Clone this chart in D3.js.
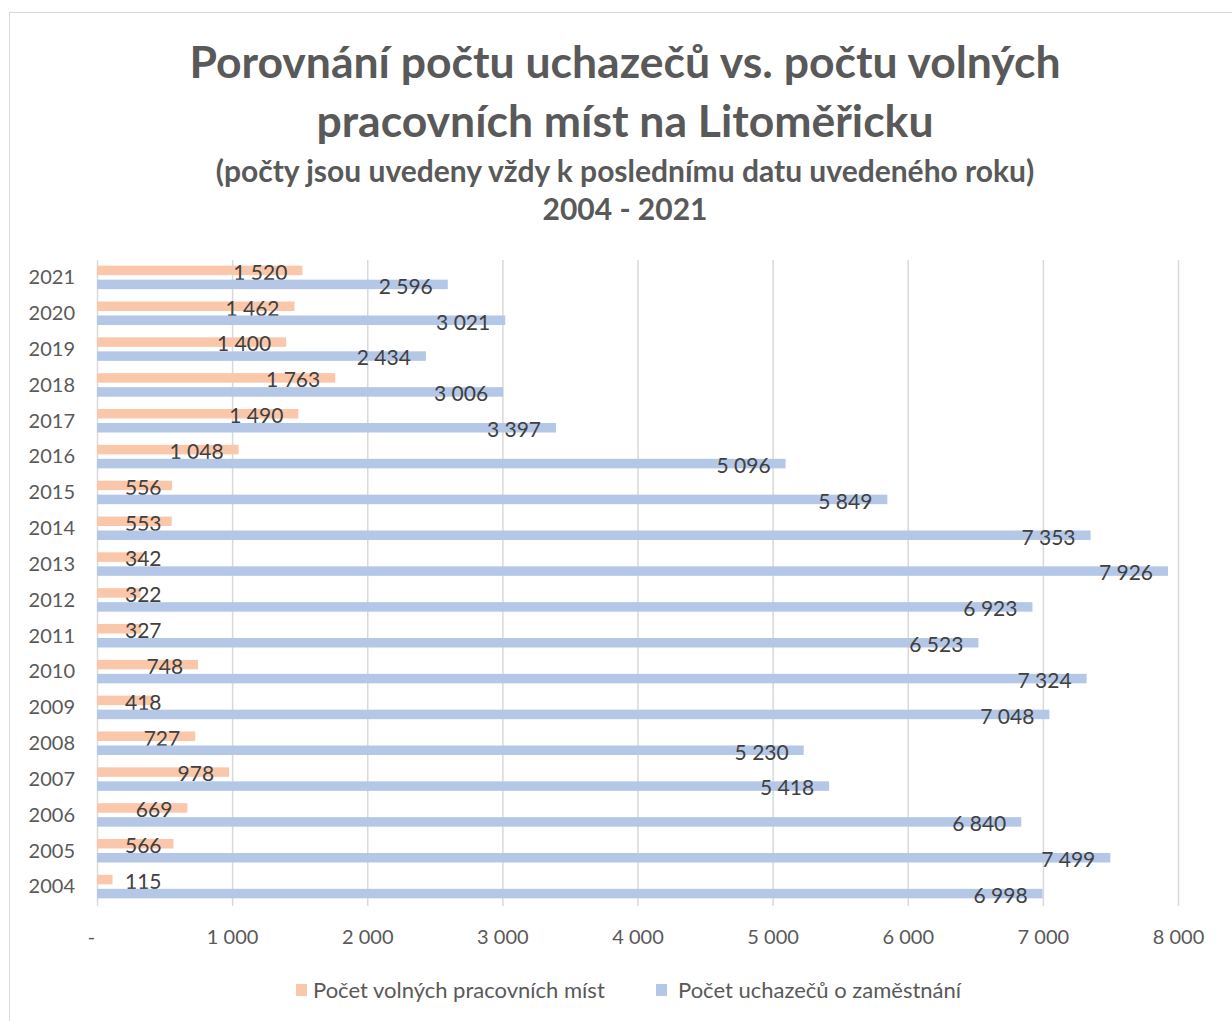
<!DOCTYPE html>
<html lang="cs">
<head>
<meta charset="utf-8">
<script src="https://cdn.jsdelivr.net/npm/d3@7"></script>
<style>
body { margin: 0; background: #fff; }
text { font-family: Lato, "Open Sans", sans-serif; }
</style>
</head>
<body>
<script>
// data
var years = ["2004","2005","2006","2007","2008","2009","2010","2011","2012","2013","2014","2015","2016","2017","2018","2019","2020","2021"];
var volnaMista = [115, 566, 669, 978, 727, 418, 748, 327, 322, 342, 553, 556, 1048, 1490, 1763, 1400, 1462, 1520];
var uchazeci = [6998, 7499, 6840, 5418, 5230, 7048, 7324, 6523, 6923, 7926, 7353, 5849, 5096, 3397, 3006, 2434, 3021, 2596];
var xTicks = [0, 1000, 2000, 3000, 4000, 5000, 6000, 7000, 8000];
var seriesNames = ["Počet volných pracovních míst", "Počet uchazečů o zaměstnání"];
var colors = ["#FBC7AA", "#B4C7E7"];

var width = 1232, height = 1021;
var fmt = d3.formatLocale({decimal: ",", thousands: "\u00a0", grouping: [3], currency: ["", " Kč"]}).format(",d");

var svg = d3.select("body").append("svg")
	.attr("width", width)
	.attr("height", height);

// chart border
svg.append("rect")
	.attr("x", 9.5).attr("y", 12.5)
	.attr("width", 1240).attr("height", 1040)
	.attr("fill", "none")
	.attr("stroke", "#d9d9d9");

// titles
var titles = [
	{t: "Porovnání počtu uchazečů vs. počtu volných", y: 78, s: 44.5},
	{t: "pracovních míst na Litoměřicku", y: 137, s: 44.5},
	{t: "(počty jsou uvedeny vždy k poslednímu datu uvedeného roku)", y: 182, s: 30},
	{t: "2004 - 2021", y: 220, s: 30}
];
svg.selectAll(".title")
	.data(titles)
	.enter().append("text")
	.attr("class", "title")
	.attr("x", 625)
	.attr("y", d => d.y)
	.attr("text-anchor", "middle")
	.attr("font-weight", "bold")
	.attr("font-size", d => d.s + "px")
	.attr("fill", "#595959")
	.text(d => d.t);

var x = d3.scaleLinear().domain([0, 8000]).range([97, 1178]);
var y = d3.scaleBand().domain(years.slice().reverse()).range([260, 905]);

// gridlines
svg.selectAll(".grid")
	.data(xTicks)
	.enter().append("line")
	.attr("x1", d => x(d) + 0.5).attr("x2", d => x(d) + 0.5)
	.attr("y1", 260).attr("y2", 906)
	.attr("stroke", "#d9d9d9")
	.attr("stroke-width", 1.5);

// x axis labels
var xAxis = d3.axisBottom(x)
	.tickValues(xTicks)
	.tickSize(0)
	.tickFormat(d => d === 0 ? "-" : fmt(d));
var gx = svg.append("g")
	.attr("transform", "translate(0,927)")
	.call(xAxis);
gx.select(".domain").remove();
gx.selectAll("text")
	.attr("font-size", "20px")
	.attr("fill", "#595959")
	.attr("dy", "0.71em")
	.style("font-family", "Lato, 'Open Sans', sans-serif");
gx.selectAll(".tick").filter(d => d === 0).select("text").attr("dx", "-6");

// y axis labels
var yAxis = d3.axisLeft(y).tickSize(0).tickPadding(22);
var gy = svg.append("g")
	.attr("transform", "translate(97,0)")
	.call(yAxis);
gy.select(".domain").remove();
gy.selectAll("text")
	.attr("font-size", "20px")
	.attr("fill", "#595959")
	.style("font-family", "Lato, 'Open Sans', sans-serif");

// bars
var series = [volnaMista, uchazeci];
var barH = 9.5;
var offsets = [-7.5, 6.5];
series.forEach(function(vals, si) {
	svg.selectAll(".bar" + si)
		.data(vals)
		.enter().append("rect")
		.attr("x", x(0))
		.attr("y", (d, i) => y(years[i]) + y.bandwidth() / 2 + offsets[si] - barH / 2)
		.attr("width", d => x(d) - x(0))
		.attr("height", barH)
		.attr("fill", colors[si]);

	svg.selectAll(".lab" + si)
		.data(vals)
		.enter().append("text")
		.attr("y", (d, i) => y(years[i]) + y.bandwidth() / 2 + offsets[si] + 2)
		.attr("dy", "0.35em")
		.attr("font-size", "21px")
		.attr("fill", "#404040")
		.text(d => fmt(d))
		.each(function(d) {
			var w = this.getComputedTextLength();
			var endX = x(d) - 15;
			var startX = Math.max(125, endX - w);
			d3.select(this).attr("x", startX);
		});
});

// legend
var legendX = [296, 656];
var legendGap = [17, 22];
seriesNames.forEach(function(n, i) {
	svg.append("rect")
		.attr("x", legendX[i]).attr("y", 984)
		.attr("width", 11).attr("height", 12)
		.attr("fill", colors[i]);
	svg.append("text")
		.attr("x", legendX[i] + legendGap[i]).attr("y", 990)
		.attr("dy", "0.35em")
		.attr("font-size", "22px")
		.attr("fill", "#595959")
		.text(n);
});
</script>
</body>
</html>
